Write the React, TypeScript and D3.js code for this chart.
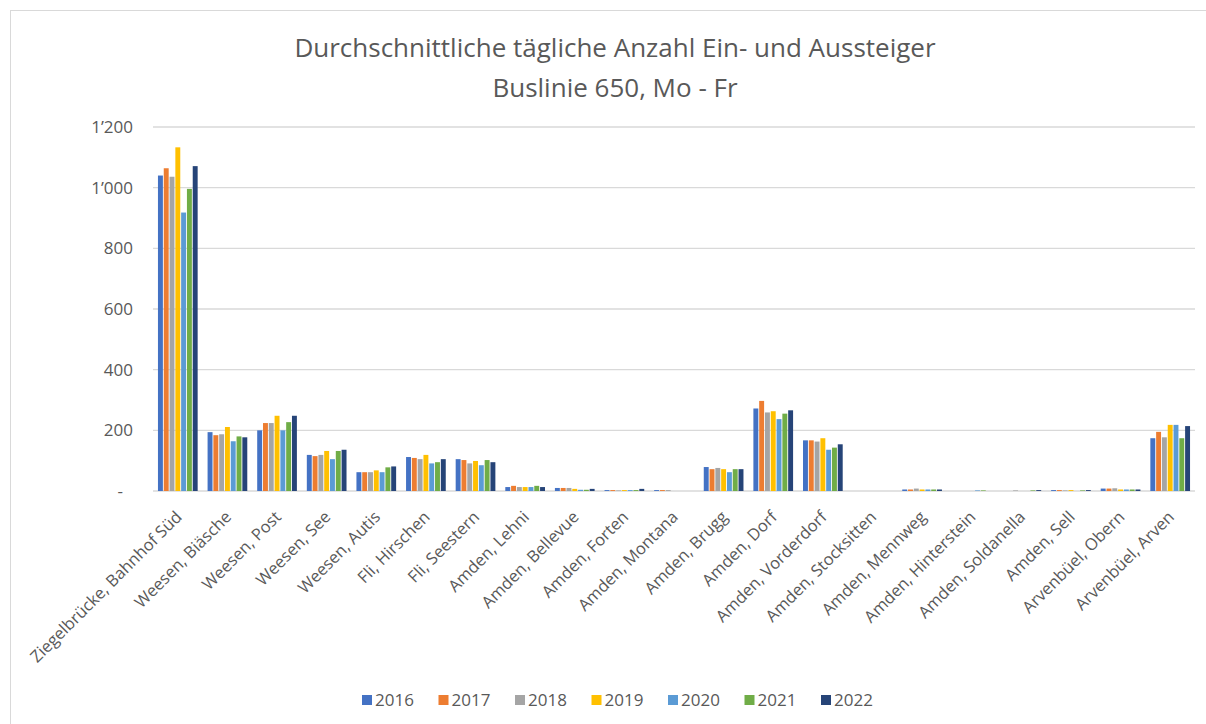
import React from 'react';
import * as d3 from 'd3';

const categories = [
  'Ziegelbrücke, Bahnhof Süd', 'Weesen, Biäsche', 'Weesen, Post', 'Weesen, See', 'Weesen, Autis',
  'Fli, Hirschen', 'Fli, Seestern', 'Amden, Lehni', 'Amden, Bellevue', 'Amden, Forten',
  'Amden, Montana', 'Amden, Brugg', 'Amden, Dorf', 'Amden, Vorderdorf', 'Amden, Stocksitten',
  'Amden, Mennweg', 'Amden, Hinterstein', 'Amden, Soldanella', 'Amden, Sell', 'Arvenbüel, Obern',
  'Arvenbüel, Arven',
];

const years = ['2016', '2017', '2018', '2019', '2020', '2021', '2022'];

const v2016 = [1040, 194, 200, 119, 62, 112, 105, 13, 10, 3, 3, 79, 272, 167, 0, 5, 0, 0, 3, 8, 174];
const v2017 = [1064, 184, 224, 115, 62, 109, 102, 17, 10, 3, 3, 72, 297, 167, 0, 5, 0, 0, 3, 8, 195];
const v2018 = [1036, 187, 224, 119, 62, 105, 91, 13, 10, 2, 3, 76, 259, 163, 0, 8, 0, 2, 2, 9, 177];
const v2019 = [1133, 211, 248, 132, 68, 119, 99, 13, 7, 3, 0, 72, 263, 174, 0, 5, 0, 0, 3, 5, 218];
const v2020 = [918, 164, 200, 105, 62, 91, 85, 13, 4, 3, 0, 62, 237, 136, 0, 5, 2, 0, 0, 5, 218];
const v2021 = [996, 180, 227, 132, 78, 95, 102, 17, 4, 3, 0, 72, 255, 143, 0, 5, 2, 2, 2, 5, 174];
const v2022 = [1071, 177, 248, 136, 81, 105, 95, 13, 7, 7, 0, 72, 266, 154, 0, 5, 0, 3, 3, 5, 214];

const seriesValues = [v2016, v2017, v2018, v2019, v2020, v2021, v2022];
const colors = ['#4472C4', '#ED7D31', '#A5A5A5', '#FFC000', '#5B9BD5', '#70AD47', '#264478'];

const yTicks = [0, 200, 400, 600, 800, 1000, 1200];
const titleLines = ['Durchschnittliche tägliche Anzahl Ein- und Aussteiger', 'Buslinie 650, Mo - Fr'];

const FONT = '"Open Sans", sans-serif';
const TEXT = '#595959';

function fmt(v: number): string {
  if (v === 0) return '-';
  const s = String(v);
  return s.length > 3 ? s.slice(0, s.length - 3) + '\u2019' + s.slice(s.length - 3) : s;
}

export default function App() {
  const W = 1206, H = 724;
  const left = 153, right = 1195, top = 127, bottom = 491;

  const x0 = d3.scaleBand<string>().domain(categories).range([left, right]).paddingInner(0.2).paddingOuter(0.1);
  const x1 = d3.scaleBand<string>().domain(years).range([0, x0.bandwidth()]).paddingInner(0.15);
  const y = d3.scaleLinear().domain([0, 1200]).range([bottom, top]);

  return (
    <svg width={W} height={H} style={{ position: 'absolute', left: 0, top: 0, background: '#fff' }}>
      <rect x={0} y={0} width={W} height={H} fill="#fff" />
      <rect x={10.5} y={10.5} width={W + 20} height={H + 20} fill="none" stroke="#d9d9d9" strokeWidth={1} />
      <g fontFamily={FONT} fill={TEXT}>
        {titleLines.map((t, i) => (
          <text key={i} x={615} y={i === 0 ? 57 : 97} textAnchor="middle" fontSize={26}>{t}</text>
        ))}
      </g>
      {yTicks.map((t) => (
        <g key={t}>
          <line x1={left} x2={right} y1={y(t)} y2={y(t)} stroke="#d9d9d9" strokeWidth={1.3} />
          <text x={t === 0 ? 123 : 133} y={y(t) + 6} textAnchor="end" fontFamily={FONT} fontSize={17} fill={TEXT}>{fmt(t)}</text>
        </g>
      ))}
      {categories.map((c, ci) => (
        <g key={c} transform={`translate(${x0(c)},0)`}>
          {years.map((yr, si) => {
            const v = seriesValues[si][ci];
            if (!v) return null;
            return (
              <rect key={yr} x={x1(yr)} y={y(v)} width={x1.bandwidth()} height={y(0) - y(v)} fill={colors[si]} />
            );
          })}
        </g>
      ))}
      {categories.map((c) => {
        const cx = (x0(c) as number) + x0.bandwidth() / 2;
        return (
          <text key={c} transform={`translate(${cx + 5},${bottom + 27}) rotate(-45)`} textAnchor="end"
            fontFamily={FONT} fontSize={16.5} fill={TEXT}>{c}</text>
        );
      })}
      {years.map((yr, i) => {
        const lx = 362 + i * 76.5;
        return (
          <g key={yr}>
            <rect x={lx} y={695} width={10} height={10} fill={colors[i]} />
            <text x={lx + 13} y={706} fontFamily={FONT} fontSize={17} fill={TEXT}>{yr}</text>
          </g>
        );
      })}
    </svg>
  );
}
